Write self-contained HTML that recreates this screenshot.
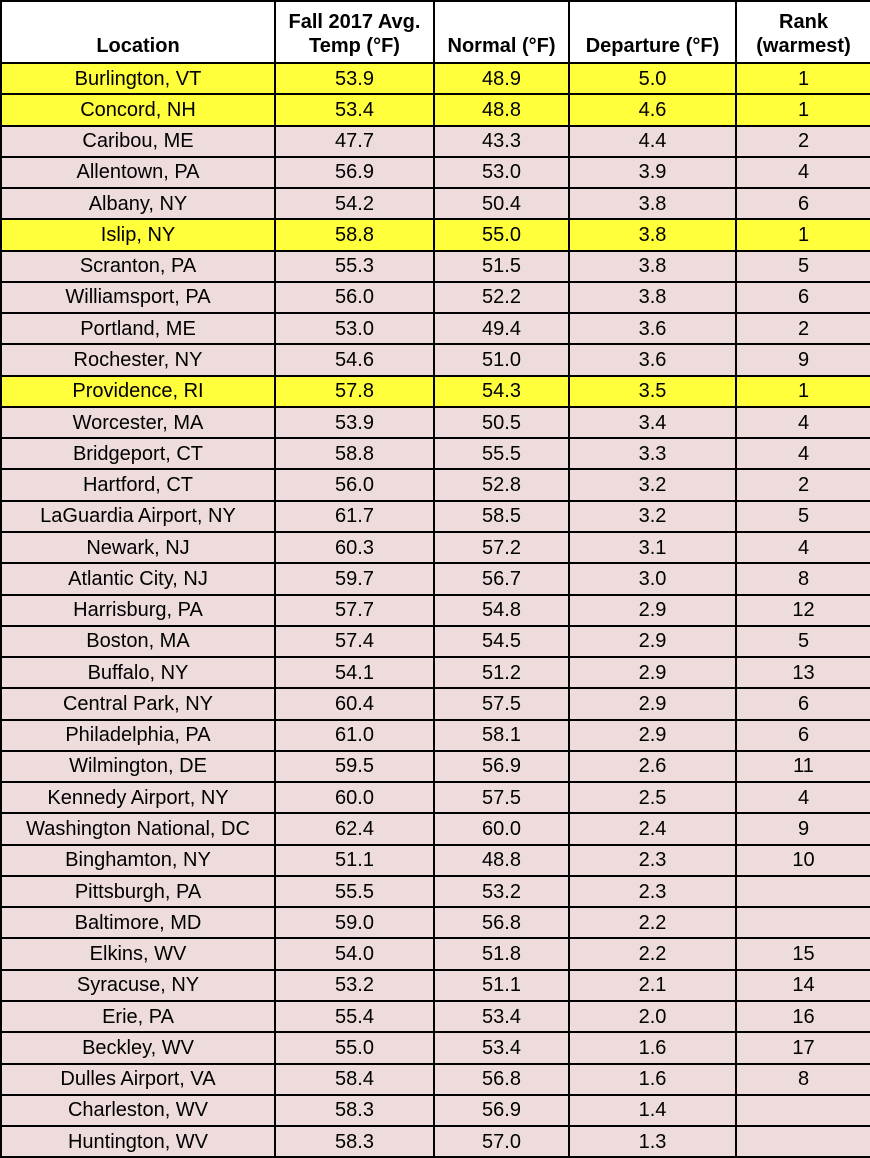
<!DOCTYPE html>
<html><head><meta charset="utf-8"><style>
body{margin:0;width:870px;height:1158px;background:#fff;font-family:"Liberation Sans",sans-serif;overflow:hidden}
table{position:absolute;left:0;top:0;border-collapse:collapse;table-layout:fixed;width:870px}
td,th{border:2px solid #000;text-align:center;padding:0;font-size:20px;color:#000;white-space:nowrap;overflow:hidden}
th{height:56px;font-weight:bold;vertical-align:bottom;line-height:24px;padding-bottom:4px;background:#fff}
td{height:29.27px;line-height:28px;background:#eddcdb}
tr.y td{background:#ffff3c}
</style></head><body>
<table>
<colgroup><col style="width:274px"><col style="width:159px"><col style="width:135px"><col style="width:167px"><col style="width:135px"></colgroup>
<tr><th>Location</th><th>Fall 2017 Avg.<br>Temp (°F)</th><th>Normal (°F)</th><th>Departure (°F)</th><th>Rank<br>(warmest)</th></tr>
<tr class="y"><td>Burlington, VT</td><td>53.9</td><td>48.9</td><td>5.0</td><td>1</td></tr>
<tr class="y"><td>Concord, NH</td><td>53.4</td><td>48.8</td><td>4.6</td><td>1</td></tr>
<tr><td>Caribou, ME</td><td>47.7</td><td>43.3</td><td>4.4</td><td>2</td></tr>
<tr><td>Allentown, PA</td><td>56.9</td><td>53.0</td><td>3.9</td><td>4</td></tr>
<tr><td>Albany, NY</td><td>54.2</td><td>50.4</td><td>3.8</td><td>6</td></tr>
<tr class="y"><td>Islip, NY</td><td>58.8</td><td>55.0</td><td>3.8</td><td>1</td></tr>
<tr><td>Scranton, PA</td><td>55.3</td><td>51.5</td><td>3.8</td><td>5</td></tr>
<tr><td>Williamsport, PA</td><td>56.0</td><td>52.2</td><td>3.8</td><td>6</td></tr>
<tr><td>Portland, ME</td><td>53.0</td><td>49.4</td><td>3.6</td><td>2</td></tr>
<tr><td>Rochester, NY</td><td>54.6</td><td>51.0</td><td>3.6</td><td>9</td></tr>
<tr class="y"><td>Providence, RI</td><td>57.8</td><td>54.3</td><td>3.5</td><td>1</td></tr>
<tr><td>Worcester, MA</td><td>53.9</td><td>50.5</td><td>3.4</td><td>4</td></tr>
<tr><td>Bridgeport, CT</td><td>58.8</td><td>55.5</td><td>3.3</td><td>4</td></tr>
<tr><td>Hartford, CT</td><td>56.0</td><td>52.8</td><td>3.2</td><td>2</td></tr>
<tr><td>LaGuardia Airport, NY</td><td>61.7</td><td>58.5</td><td>3.2</td><td>5</td></tr>
<tr><td>Newark, NJ</td><td>60.3</td><td>57.2</td><td>3.1</td><td>4</td></tr>
<tr><td>Atlantic City, NJ</td><td>59.7</td><td>56.7</td><td>3.0</td><td>8</td></tr>
<tr><td>Harrisburg, PA</td><td>57.7</td><td>54.8</td><td>2.9</td><td>12</td></tr>
<tr><td>Boston, MA</td><td>57.4</td><td>54.5</td><td>2.9</td><td>5</td></tr>
<tr><td>Buffalo, NY</td><td>54.1</td><td>51.2</td><td>2.9</td><td>13</td></tr>
<tr><td>Central Park, NY</td><td>60.4</td><td>57.5</td><td>2.9</td><td>6</td></tr>
<tr><td>Philadelphia, PA</td><td>61.0</td><td>58.1</td><td>2.9</td><td>6</td></tr>
<tr><td>Wilmington, DE</td><td>59.5</td><td>56.9</td><td>2.6</td><td>11</td></tr>
<tr><td>Kennedy Airport, NY</td><td>60.0</td><td>57.5</td><td>2.5</td><td>4</td></tr>
<tr><td>Washington National, DC</td><td>62.4</td><td>60.0</td><td>2.4</td><td>9</td></tr>
<tr><td>Binghamton, NY</td><td>51.1</td><td>48.8</td><td>2.3</td><td>10</td></tr>
<tr><td>Pittsburgh, PA</td><td>55.5</td><td>53.2</td><td>2.3</td><td></td></tr>
<tr><td>Baltimore, MD</td><td>59.0</td><td>56.8</td><td>2.2</td><td></td></tr>
<tr><td>Elkins, WV</td><td>54.0</td><td>51.8</td><td>2.2</td><td>15</td></tr>
<tr><td>Syracuse, NY</td><td>53.2</td><td>51.1</td><td>2.1</td><td>14</td></tr>
<tr><td>Erie, PA</td><td>55.4</td><td>53.4</td><td>2.0</td><td>16</td></tr>
<tr><td>Beckley, WV</td><td>55.0</td><td>53.4</td><td>1.6</td><td>17</td></tr>
<tr><td>Dulles Airport, VA</td><td>58.4</td><td>56.8</td><td>1.6</td><td>8</td></tr>
<tr><td>Charleston, WV</td><td>58.3</td><td>56.9</td><td>1.4</td><td></td></tr>
<tr><td>Huntington, WV</td><td>58.3</td><td>57.0</td><td>1.3</td><td></td></tr>
</table>
</body></html>
